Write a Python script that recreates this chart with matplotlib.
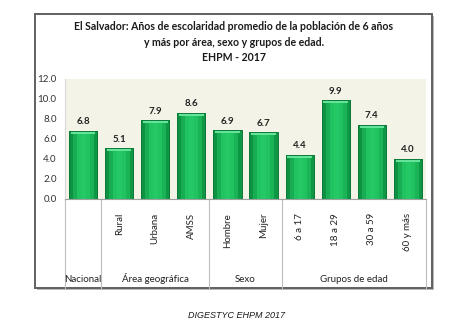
import numpy as np
import matplotlib.pyplot as plt
from matplotlib.colors import LinearSegmentedColormap
from matplotlib.patches import Rectangle, FancyBboxPatch

categories = ["Nacional", "Rural", "Urbana", "AMSS", "Hombre", "Mujer",
              "6 a 17", "18 a 29", "30 a 59", "60 y más"]
values = [6.8, 5.1, 7.9, 8.6, 6.9, 6.7, 4.4, 9.9, 7.4, 4.0]
groups = ["Nacional", "Área geográfica", "Sexo", "Grupos de edad"]
group_sizes = [1, 3, 2, 4]
yticks = [0, 2, 4, 6, 8, 10, 12]

title = ("El Salvador: Años de escolaridad promedio de la población de 6 años\n"
         "y más por área, sexo y grupos de edad.\nEHPM - 2017")
source = "DIGESTYC EHPM 2017"

font = ["Lato", "DejaVu Sans"]

W, H = 475, 322
fig = plt.figure(figsize=(W / 100, H / 100), dpi=100)


def fx(px):
    return px / W


def fy(py):
    return 1 - py / H


# outer frame with a soft shadow
fig.patches.append(Rectangle((fx(37), fy(290)), fx(397), fy(16) - fy(290),
                             transform=fig.transFigure, facecolor="#b8b8b8",
                             edgecolor="none", zorder=-2))
fig.patches.append(Rectangle((fx(35), fy(288)), fx(397), fy(14) - fy(288),
                             transform=fig.transFigure, facecolor="white",
                             edgecolor="#606060", linewidth=1.4, zorder=-1))

ax = fig.add_axes([fx(65), fy(199), fx(426) - fx(65), fy(79) - fy(199)])
ax.set_zorder(1)
ax.set_facecolor("#f3f3e7")

cmap = LinearSegmentedColormap.from_list("bar", ["#0c9242", "#27d069"])
x = np.arange(len(values))
bw = 0.78
grad = np.array([[0.0, 0.45, 0.8, 0.9, 0.8, 0.55, 0.1]])
for xi, v in zip(x, values):
    bar = ax.bar(xi, v, width=bw, color="#16b553", edgecolor="none",
                 zorder=2)[0]
    img = ax.imshow(grad, extent=[xi - bw / 2, xi + bw / 2, 0, v], cmap=cmap,
                    vmin=0, vmax=1, aspect="auto", zorder=2.5)
    img.set_clip_path(bar)
    # soft light bevel along the top of each bar
    ax.add_patch(Rectangle((xi - bw / 2 + 0.05, v - 0.28), bw - 0.1, 0.24,
                           facecolor="#66e39a", edgecolor="none", zorder=3))
    ax.add_patch(Rectangle((xi - bw / 2, 0), bw, v, facecolor="none",
                           edgecolor="#0b7a36", linewidth=0.7, zorder=3.5))
    ax.text(xi, v + 0.45, f"{v:.1f}", ha="center", va="bottom",
            fontsize=7, fontweight="bold", family=font, color="#222222",
            zorder=4)
ax.set_xlim(-0.5, len(values) - 0.5)
ax.set_ylim(0, 12)

ax.set_yticks(yticks)
ax.set_yticklabels([f"{t:.1f}" for t in yticks], fontsize=7, family=font,
                   color="#333333")
ax.tick_params(axis="y", length=0, pad=6)
ax.set_xticks([])
for s in ["top", "right"]:
    ax.spines[s].set_visible(False)
ax.spines["left"].set_color("#d8d8d8")
ax.spines["bottom"].set_color("#a0a0a0")

# two-level category table beneath the bars
depth = -(288 - 199) / 120
trans = ax.get_xaxis_transform()
bounds = np.concatenate([[0], np.cumsum(group_sizes)]) - 0.5
for b in bounds:
    ax.plot([b, b], [0, depth], color="#bdbdbd", linewidth=0.8,
            clip_on=False, transform=trans)
for xi, lab in zip(x[1:], categories[1:]):
    ax.text(xi, -14 / 120, lab, rotation=90, ha="center", va="top",
            fontsize=7, family=font, color="#222222", transform=trans)
for i, g in enumerate(groups):
    mid = (bounds[i] + bounds[i + 1]) / 2
    ax.text(mid, -80 / 120, g, ha="center", va="center", fontsize=7,
            family=font, color="#222222", transform=trans)

fig.text(fx(234), fy(42), title, ha="center", va="center", fontsize=7.6,
         fontweight="bold", family=font, linespacing=1.5, color="#1a1a1a")
fig.text(fx(236), fy(316), source, ha="center", va="center", fontsize=6.5,
         style="italic", family=["Liberation Sans", "DejaVu Sans"],
         color="#1a1a1a")

fig.savefig("out.png", dpi=100)
